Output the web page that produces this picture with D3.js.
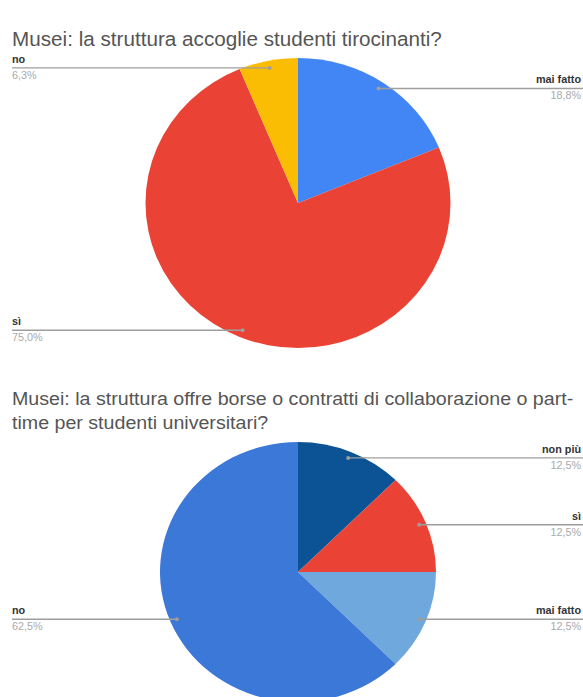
<!DOCTYPE html>
<html>
<head>
<meta charset="utf-8">
<script src="https://cdn.jsdelivr.net/npm/d3@7"></script>
<style>
  body { margin: 0; background: #fff; }
  svg { display: block; }
</style>
</head>
<body>
<svg id="chart" width="583" height="697"></svg>
<script>
  // ---- data ----
  const chart1Title = ["Musei: la struttura accoglie studenti tirocinanti?"];
  const chart1Labels = ["mai fatto", "sì", "no"];
  const chart1Values = [3, 12, 1];
  const chart1Colors = ["#4285f4", "#ea4335", "#fbbc04"];

  const chart2Title = [
    "Musei: la struttura offre borse o contratti di collaborazione o part-",
    "time per studenti universitari?"
  ];
  const chart2Labels = ["non più", "sì", "mai fatto", "no"];
  const chart2Values = [2, 2, 2, 10];
  const chart2Colors = ["#0b5394", "#ea4335", "#6fa8dc", "#3c78d8"];

  const itFormat = d3.formatLocale({ decimal: ",", thousands: ".", grouping: [3], currency: ["", "€"] }).format(".1%");

  const svg = d3.select("#chart");
  const W = +svg.attr("width");
  const FONT = "Liberation Sans, Arial, sans-serif";

  function drawPie(opts) {
    const { title, titleY, titleSize, labels, values, colors, cx, cy, rx, ry } = opts;
    const g = svg.append("g");

    // title (the screenshot is stretched a little horizontally)
    title.forEach((t, i) => {
      g.append("text")
        .attr("transform", `translate(12,${titleY + i * 24}) scale(1.05,1)`)
        .attr("font-family", FONT)
        .attr("font-size", titleSize)
        .attr("fill", "#555")
        .text(t);
    });

    const total = d3.sum(values);
    const pie = d3.pie().sort(null).value(d => d)(values);
    const arc = d3.arc().innerRadius(0).outerRadius(ry);

    const pg = g.append("g").attr("transform", `translate(${cx},${cy}) scale(${rx / ry},1)`);
    pg.selectAll("path").data(pie).join("path")
      .attr("d", arc)
      .attr("fill", (d, i) => colors[i]);

    // callouts
    pie.forEach((d, i) => {
      const a = (d.startAngle + d.endAngle) / 2;
      const px = cx + 0.95 * rx * Math.sin(a);
      const py = cy - 0.95 * ry * Math.cos(a);
      const left = px < cx;
      const x0 = left ? 12 : W;
      g.append("line")
        .attr("x1", x0).attr("y1", py).attr("x2", px).attr("y2", py)
        .attr("stroke", "#9e9e9e").attr("stroke-width", 1.4);
      g.append("circle")
        .attr("cx", px).attr("cy", py).attr("r", 2)
        .attr("fill", "#9e9e9e");
      const tx = left ? 12 : W - 2;
      const anchor = left ? "start" : "end";
      g.append("text")
        .attr("x", tx).attr("y", py - 5)
        .attr("text-anchor", anchor)
        .attr("font-family", FONT)
        .attr("font-size", 10.8).attr("font-weight", 700)
        .attr("fill", "#333")
        .text(labels[i]);
      g.append("text")
        .attr("x", tx).attr("y", py + 11)
        .attr("text-anchor", anchor)
        .attr("font-family", FONT)
        .attr("font-size", 10.8)
        .attr("fill", "#aaa")
        .text(itFormat(values[i] / total));
    });
  }

  drawPie({
    title: chart1Title, titleY: 46, titleSize: 19.7,
    labels: chart1Labels, values: chart1Values, colors: chart1Colors,
    cx: 298, cy: 203, rx: 152.5, ry: 145
  });

  drawPie({
    title: chart2Title, titleY: 405, titleSize: 18.7,
    labels: chart2Labels, values: chart2Values, colors: chart2Colors,
    cx: 298, cy: 572, rx: 138, ry: 130
  });
</script>
</body>
</html>
